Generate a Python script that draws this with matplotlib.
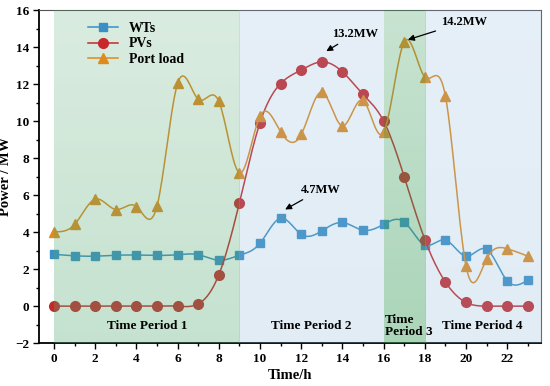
import numpy as np
import matplotlib.pyplot as plt
from matplotlib.lines import Line2D

hours = np.arange(24)
wts = [2.8, 2.72, 2.7, 2.75, 2.76, 2.74, 2.78, 2.78, 2.48, 2.75, 3.4, 4.75,
       3.88, 4.07, 4.52, 4.1, 4.42, 4.55, 3.3, 3.57, 2.7, 3.07, 1.37, 1.41]
pvs = [0, 0, 0, 0, 0, 0, 0, 0.12, 1.7, 5.6, 9.92, 12.03,
       12.76, 13.2, 12.66, 11.44, 10.0, 6.99, 3.6, 1.3, 0.2, 0, 0, 0]
port = [4.02, 4.42, 5.78, 5.22, 5.38, 5.42, 12.04, 11.18, 11.06, 7.2, 10.27, 9.42,
        9.28, 11.57, 9.74, 11.12, 9.4, 14.28, 12.38, 11.35, 2.17, 2.55, 3.1, 2.7]

periods = [(0, 9), (9, 16), (16, 18), (18, 23.65)]
period_names = ['Time Period 1', 'Time Period 2', 'Time\nPeriod 3', 'Time Period 4']


def spline(x, y, n=400):
    # natural cubic spline, only used to draw a smooth line through the points
    x = np.asarray(x, float); y = np.asarray(y, float)
    h = np.diff(x)
    m = len(x)
    A = np.zeros((m, m)); b = np.zeros(m)
    A[0, 0] = A[-1, -1] = 1
    for i in range(1, m - 1):
        A[i, i - 1] = h[i - 1]; A[i, i] = 2 * (h[i - 1] + h[i]); A[i, i + 1] = h[i]
        b[i] = 6 * ((y[i + 1] - y[i]) / h[i] - (y[i] - y[i - 1]) / h[i - 1])
    M = np.linalg.solve(A, b)
    xs = np.linspace(x[0], x[-1], n)
    k = np.clip(np.searchsorted(x, xs) - 1, 0, m - 2)
    t0 = xs - x[k]; t1 = x[k + 1] - xs; hk = h[k]
    ys = (M[k] * t1**3 + M[k + 1] * t0**3) / (6 * hk) + (y[k] / hk - M[k] * hk / 6) * t1 \
        + (y[k + 1] / hk - M[k + 1] * hk / 6) * t0
    return xs, ys


plt.rcParams['font.family'] = 'Liberation Serif'
plt.rcParams['font.weight'] = 'bold'
fig = plt.figure(figsize=(5.5, 3.86), dpi=100)
ax = fig.add_axes([0.071, 0.111, 0.913, 0.863])

series = [('WTs', wts, '#3a8fc4', 's', 6), ('PVs', pvs, '#c8282a', 'o', 7),
          ('Port load', port, '#e08a1e', '^', 7)]
handles = []
for name, vals, col, mk, ms in series:
    xs, ys = spline(hours, vals)
    ax.plot(xs, ys, color=col, lw=1.1, zorder=2)
    ax.plot(hours, vals, ls='none', marker=mk, ms=ms, color=col, zorder=2)
    handles.append(Line2D([], [], color=col, marker=mk, ms=ms, lw=1.1, label=name))

# shaded time periods, drawn over the curves with a vertical gradient
band_cols = [(0.33, 0.66, 0.45, 0.22, 0.34), (0.55, 0.72, 0.86, 0.22, 0.26),
             (0.28, 0.64, 0.40, 0.30, 0.46), (0.55, 0.72, 0.86, 0.22, 0.26)]
for (x0, x1), (r, g, bl, a0, a1) in zip(periods, band_cols):
    grad = np.zeros((100, 1, 4))
    grad[..., 0], grad[..., 1], grad[..., 2] = r, g, bl
    grad[:, 0, 3] = np.linspace(a0, a1, 100)
    ax.imshow(grad, extent=[x0, x1, -2, 16], aspect='auto', origin='upper', zorder=3)

for (x0, x1), name in zip(periods, period_names):
    if '\n' in name:
        ax.text(x0 + 0.05, -1.1, name, ha='left', va='center', fontsize=9.5, zorder=5, linespacing=1.0)
    else:
        ax.text((x0 + min(x1, 23)) / 2 + (0.3 if x0 == 18 else 0), -1.1, name,
                ha='center', va='center', fontsize=9.5, zorder=5)

arrow = dict(arrowstyle='-|>', color='black', lw=0.9, mutation_scale=9)
ax.annotate('13.2MW', xy=(13.1, 13.7), xytext=(14.6, 14.7), ha='center', va='center',
            fontsize=9, arrowprops=arrow, zorder=6)
ax.annotate('14.2MW', xy=(17.05, 14.35), xytext=(19.9, 15.35), ha='center', va='center',
            fontsize=9, arrowprops=arrow, zorder=6)
ax.annotate('4.7MW', xy=(11.1, 5.15), xytext=(12.95, 6.3), ha='center', va='center',
            fontsize=9, arrowprops=arrow, zorder=6)

ax.set_xlim(-0.73, 23.65)
ax.set_ylim(-2, 16)
ax.set_xticks(np.arange(0, 23, 2))
ax.set_xticks(np.arange(1, 24, 2), minor=True)
ax.set_yticks(np.arange(-2, 17, 2))
ax.set_yticks(np.arange(-1, 16, 2), minor=True)
ax.tick_params(labelsize=9.5, length=4, width=1, pad=3)
ax.tick_params(which='minor', length=2.5, width=1)
ax.set_xlabel('Time/h', fontsize=10.5, fontweight='bold', labelpad=3)
ax.set_ylabel('Power / MW', fontsize=10.5, fontweight='bold', labelpad=2)
for s in ['left', 'bottom']:
    ax.spines[s].set_linewidth(1.3)
for s in ['top', 'right']:
    ax.spines[s].set_color('#555555')

ax.legend(handles=handles, loc='upper left', bbox_to_anchor=(0.08, 0.99), frameon=False,
          fontsize=10, handlelength=2.2, labelspacing=0.2, borderaxespad=0.2)

fig.savefig('out.png', dpi=100)
